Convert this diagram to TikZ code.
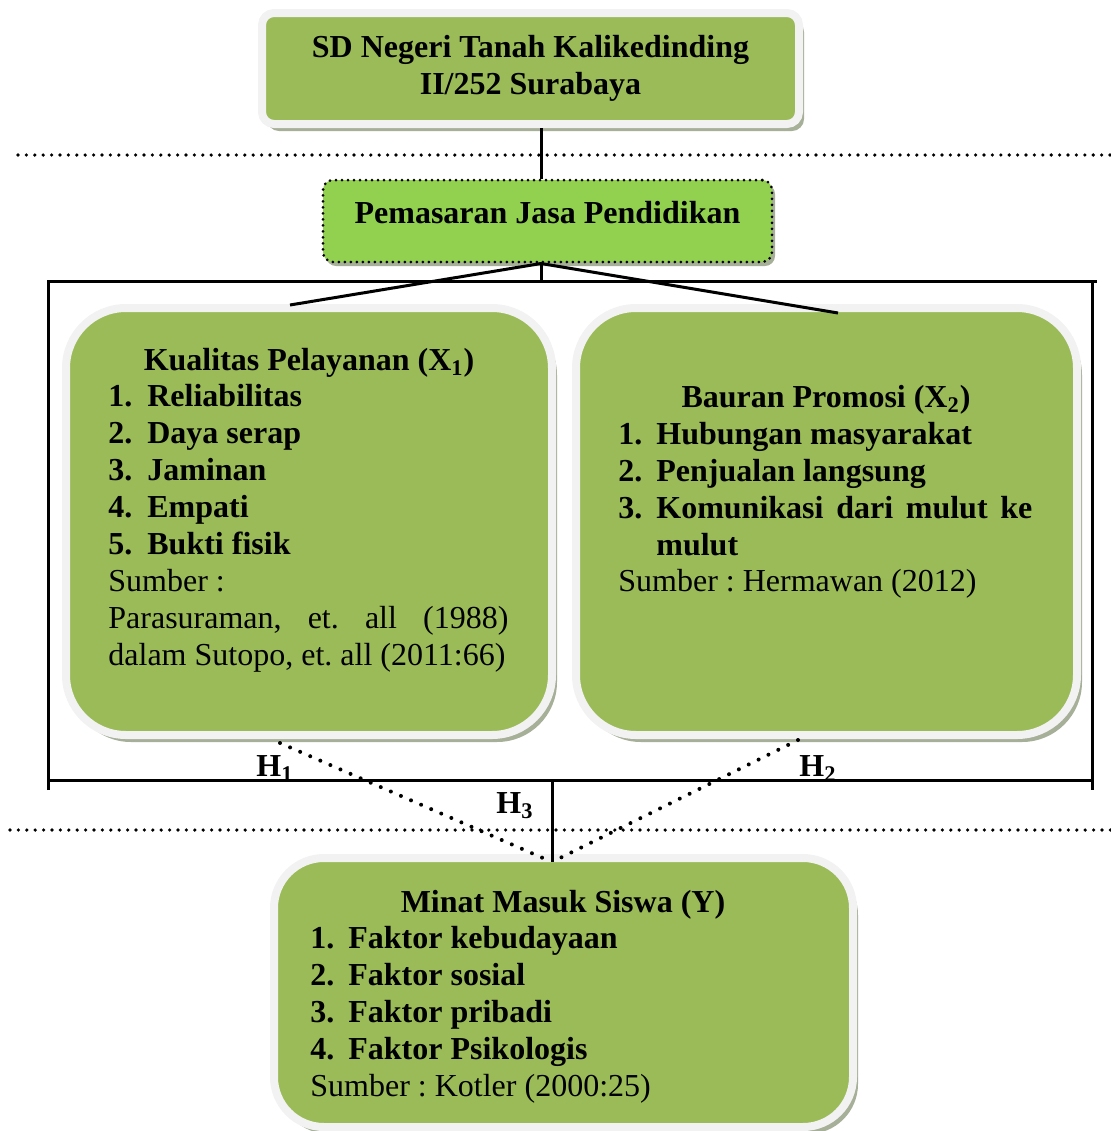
\documentclass[tikz,border=0pt]{standalone}
\usepackage{fontspec}
\setmainfont{Liberation Serif}
\usetikzlibrary{shadows}
\frenchspacing
\definecolor{daun}{HTML}{9BBB59}
\definecolor{dauncerah}{HTML}{92D050}
\definecolor{bingkai}{HTML}{F2F2F2}
\definecolor{bayang}{HTML}{A6AF97}
\tikzset{
  kotak/.style={rectangle, rounded corners=#1, fill=daun, draw=bingkai, line width=4pt,
    drop shadow={shadow xshift=2.5pt, shadow yshift=-3.5pt, fill=bayang, opacity=1}},
  judul/.style={font=\fontsize{16}{18.5}\selectfont\bfseries, inner sep=0pt, anchor=base},
  butir/.style={font=\fontsize{16}{18.5}\selectfont\bfseries, inner sep=0pt, anchor=base west},
  sumber/.style={font=\fontsize{16}{18.5}\selectfont, inner sep=0pt, anchor=base west},
  garis/.style={line width=1.5pt},
  titik/.style={line width=2pt, line cap=round, dash pattern=on 0pt off 5.5pt},
  titikrapat/.style={line width=1.8pt, line cap=round, dash pattern=on 0pt off 4.2pt},
}
\begin{document}
\begin{tikzpicture}[x=0.5pt,y=-0.5pt]
\useasboundingbox (0,0) rectangle (1111,1131);
% kotak utama
\node[kotak=6pt, minimum width=268.5pt, minimum height=55.5pt, align=center,
  font=\fontsize{16}{18.5}\selectfont\bfseries] (sd) at (530.5,68.5)
  {SD Negeri Tanah Kalikedinding\\II/252 Surabaya};
\node[rectangle, rounded corners=5pt, fill=dauncerah, draw=black, line width=1.5pt,
  dash pattern=on 0pt off 3pt, line cap=round, minimum width=224.5pt, minimum height=41pt,
  text height=10pt, text depth=8pt, font=\fontsize{16}{18.5}\selectfont\bfseries,
  drop shadow={shadow xshift=1.5pt, shadow yshift=-2pt, fill=bayang, opacity=1}] (pj) at (547.5,221)
  {Pemasaran Jasa Pendidikan};
\node[kotak=30pt, minimum width=243pt, minimum height=213.5pt] (kp) at (309,521.5) {};
\node[kotak=30pt, minimum width=250.5pt, minimum height=213.5pt] (bp) at (826.5,521.5) {};
\node[kotak=25pt, minimum width=289.5pt, minimum height=134.5pt] (mm) at (563.5,992.5) {};

% garis putus-putus
\draw[titikrapat] (18,155) -- (1111,155);
\draw[titikrapat] (10,830) -- (1111,830);

% bingkai
\draw[garis] (48,790) -- (48,281) -- (1097,281);
\draw[garis] (1092,281) -- (1092,790);
\draw[garis] (48,780) -- (1092,780);

% penghubung
\coordinate (poros) at (541,0);
\coordinate (atas) at (541,281);
\coordinate (ujungkp) at (290,305);
\coordinate (ujungbp) at (838,313);
\coordinate (bawahkp) at (280,743);
\coordinate (bawahbp) at (798,740);
\coordinate (silang) at (552,780);
\coordinate (temu) at (552,862);
\draw[garis] (sd.south -| poros) -- (pj.north -| poros);
\draw[garis] (pj.south -| poros) -- (atas);
\draw[garis] (pj.south -| poros) -- (ujungkp);
\draw[garis] (pj.south -| poros) -- (ujungbp);
\draw[garis] (silang) -- (temu);
\draw[titik] (bawahkp) -- (temu);
\draw[titik] (bawahbp) -- (temu);
\node[judul] (h1) at (275,776) {H\textsubscript{1}};
\node[judul] (h2) at (818,776) {H\textsubscript{2}};
\node[judul] (h3) at (515,813) {H\textsubscript{3}};

% isi kualitas pelayanan
\node[judul] (kpj) at (309,370) {Kualitas Pelayanan (X\textsubscript{1})};
\foreach \t [count=\i] in {Reliabilitas, Daya serap, Jaminan, Empati, Bukti fisik}
  \node[butir] (kp\i) at (108,{370+36.8*\i}) {\makebox[19.5pt][l]{\i.}\t};
\node[sumber] (kps1) at (108,591) {Sumber :};
\node[sumber] (kps2) at (108,628) {\makebox[200pt][s]{Parasuraman, et. all (1988)}};
\node[sumber] (kps3) at (108,665) {dalam Sutopo, et. all (2011:66)};

% isi bauran promosi
\node[judul] (bpj) at (826,407) {Bauran Promosi (X\textsubscript{2})};
\node[butir] (bp1) at (618,444) {\makebox[19pt][l]{1.}Hubungan masyarakat};
\node[butir] (bp2) at (618,481) {\makebox[19pt][l]{2.}Penjualan langsung};
\node[butir] (bp3) at (618,518) {\makebox[19pt][l]{3.}\makebox[188pt][s]{Komunikasi dari mulut ke}};
\node[butir] (bp4) at (656,555) {mulut};
\node[sumber] (bps) at (618,591) {Sumber : Hermawan (2012)};

% isi minat masuk siswa
\node[judul] (mmj) at (563,912) {Minat Masuk Siswa (Y)};
\foreach \t [count=\i] in {Faktor kebudayaan, Faktor sosial, Faktor pribadi, Faktor Psikologis}
  \node[butir] (mm\i) at (310,{912+36.8*\i}) {\makebox[19pt][l]{\i.}\t};
\node[sumber] (mms) at (310,1096) {Sumber : Kotler (2000:25)};
\end{tikzpicture}
\end{document}
